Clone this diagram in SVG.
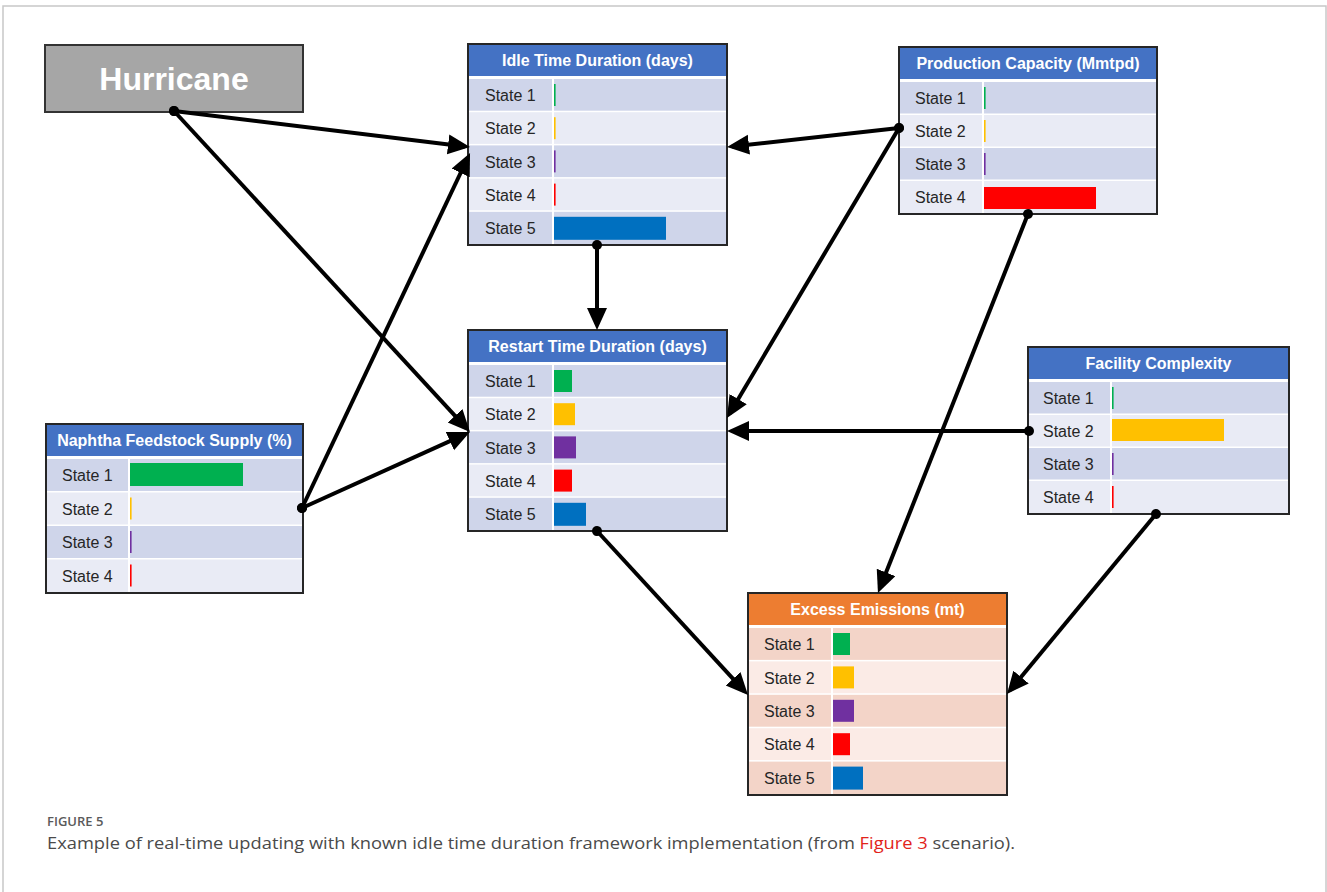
<svg xmlns="http://www.w3.org/2000/svg" width="1327" height="892" viewBox="0 0 1327 892">
  <defs>
    <style>
      .frame { fill: #ffffff; stroke: #c8c8c8; stroke-width: 1.5; }
      .box { fill: #ffffff; stroke: #262626; stroke-width: 2; }
      .hdr-blue { fill: #4472c4; }
      .hdr-orange { fill: #ed7d31; }
      .hdr-text { font-family: "Liberation Sans", Arial, sans-serif; font-weight: bold; font-size: 16px; fill: #ffffff; text-anchor: middle; }
      .lbl { font-family: "Liberation Sans", Arial, sans-serif; font-size: 16px; fill: #262626; }
      .b-dark { fill: #cfd5ea; }
      .b-light { fill: #e9ebf5; }
      .o-dark { fill: #f3d4c8; }
      .o-light { fill: #fbebe6; }
      .div { stroke: #ffffff; stroke-width: 2; }
      .c1 { fill: #00b050; }
      .c2 { fill: #ffc000; }
      .c3 { fill: #7030a0; }
      .c4 { fill: #ff0000; }
      .c5 { fill: #0070c0; }
      .edge { fill: none; stroke: #000000; stroke-width: 4; marker-start: url(#dot); marker-end: url(#head); }
      .cap-title { font-family: "Open Sans", "Liberation Sans", sans-serif; font-size: 13px; font-weight: 600; fill: #5a5a5a; }
      .cap { font-family: "Open Sans", "Liberation Sans", sans-serif; font-size: 17px; fill: #4a4a4a; }
      .cap-link { fill: #e2231a; }
    </style>
    <marker id="head" markerUnits="userSpaceOnUse" markerWidth="24" markerHeight="22" refX="17" refY="10" orient="auto">
      <path d="M0,0 L22,10 L0,20 z" fill="#000000"/>
    </marker>
    <marker id="dot" markerUnits="userSpaceOnUse" markerWidth="12" markerHeight="12" refX="6" refY="6" orient="auto">
      <circle cx="6" cy="6" r="5" fill="#000000"/>
    </marker>
  </defs>

  <!-- figure frame -->
  <rect class="frame" x="3" y="6" width="1323" height="900"/>

  <!-- Hurricane -->
  <g id="hurricane">
    <rect x="45" y="45" width="258" height="67" fill="#a6a6a6" stroke="#333333" stroke-width="2"/>
    <text x="174" y="90" font-family="Liberation Sans, Arial, sans-serif" font-weight="bold" font-size="32" fill="#ffffff" text-anchor="middle">Hurricane</text>
  </g>

  <!-- Idle Time Duration -->
  <g id="idle-time" transform="translate(468,44)">
    <rect class="box" x="0" y="0" width="259" height="201"/>
    <rect class="hdr-blue" x="1" y="1" width="257" height="31"/>
    <text class="hdr-text" x="129.5" y="22">Idle Time Duration (days)</text>
    <rect class="b-dark" x="1" y="35" width="257" height="31.7"/>
    <rect class="b-light" x="1" y="68.2" width="257" height="31.7"/>
    <rect class="b-dark" x="1" y="101.4" width="257" height="31.7"/>
    <rect class="b-light" x="1" y="134.6" width="257" height="31.7"/>
    <rect class="b-dark" x="1" y="167.8" width="257" height="32.2"/>
    <line class="div" x1="85" y1="35" x2="85" y2="200"/>
    <text class="lbl" x="17" y="57.1">State 1</text>
    <text class="lbl" x="17" y="90.3">State 2</text>
    <text class="lbl" x="17" y="123.5">State 3</text>
    <text class="lbl" x="17" y="156.7">State 4</text>
    <text class="lbl" x="17" y="189.9">State 5</text>
    <rect class="c1" x="86" y="40" width="1.6" height="22"/>
    <rect class="c2" x="86" y="73.2" width="1.6" height="22"/>
    <rect class="c3" x="86" y="106.4" width="1.6" height="22"/>
    <rect class="c4" x="86" y="139.6" width="1.6" height="22"/>
    <rect class="c5" x="86" y="172.8" width="112" height="23"/>
  </g>

  <!-- Production Capacity -->
  <g id="production-capacity" transform="translate(899,47)">
    <rect class="box" x="0" y="0" width="258" height="167"/>
    <rect class="hdr-blue" x="1" y="1" width="256" height="31"/>
    <text class="hdr-text" x="129" y="22">Production Capacity (Mmtpd)</text>
    <rect class="b-dark" x="1" y="35" width="256" height="31.5"/>
    <rect class="b-light" x="1" y="68" width="256" height="31.5"/>
    <rect class="b-dark" x="1" y="101" width="256" height="31.5"/>
    <rect class="b-light" x="1" y="134" width="256" height="32"/>
    <line class="div" x1="84" y1="35" x2="84" y2="166"/>
    <text class="lbl" x="16" y="57">State 1</text>
    <text class="lbl" x="16" y="90">State 2</text>
    <text class="lbl" x="16" y="123">State 3</text>
    <text class="lbl" x="16" y="156">State 4</text>
    <rect class="c1" x="85" y="40" width="1.6" height="22"/>
    <rect class="c2" x="85" y="73" width="1.6" height="22"/>
    <rect class="c3" x="85" y="106" width="1.6" height="22"/>
    <rect class="c4" x="85" y="140" width="112" height="22"/>
  </g>

  <!-- Naphtha Feedstock Supply -->
  <g id="naphtha-supply" transform="translate(46,424)">
    <rect class="box" x="0" y="0" width="257" height="169"/>
    <rect class="hdr-blue" x="1" y="1" width="255" height="31"/>
    <text class="hdr-text" x="128.5" y="22">Naphtha Feedstock Supply (%)</text>
    <rect class="b-dark" x="1" y="35" width="255" height="32"/>
    <rect class="b-light" x="1" y="68.5" width="255" height="32"/>
    <rect class="b-dark" x="1" y="102" width="255" height="32"/>
    <rect class="b-light" x="1" y="135.5" width="255" height="32.5"/>
    <line class="div" x1="83" y1="35" x2="83" y2="168"/>
    <text class="lbl" x="16" y="57.2">State 1</text>
    <text class="lbl" x="16" y="90.7">State 2</text>
    <text class="lbl" x="16" y="124.2">State 3</text>
    <text class="lbl" x="16" y="157.7">State 4</text>
    <rect class="c1" x="84" y="39" width="113" height="23"/>
    <rect class="c2" x="84" y="73.5" width="1.6" height="22"/>
    <rect class="c3" x="84" y="107" width="1.6" height="22"/>
    <rect class="c4" x="84" y="140.5" width="1.6" height="22"/>
  </g>

  <!-- Restart Time Duration -->
  <g id="restart-time" transform="translate(468,330)">
    <rect class="box" x="0" y="0" width="259" height="201"/>
    <rect class="hdr-blue" x="1" y="1" width="257" height="31"/>
    <text class="hdr-text" x="129.5" y="22">Restart Time Duration (days)</text>
    <rect class="b-dark" x="1" y="35" width="257" height="31.7"/>
    <rect class="b-light" x="1" y="68.2" width="257" height="31.7"/>
    <rect class="b-dark" x="1" y="101.4" width="257" height="31.7"/>
    <rect class="b-light" x="1" y="134.6" width="257" height="31.7"/>
    <rect class="b-dark" x="1" y="167.8" width="257" height="32.2"/>
    <line class="div" x1="85" y1="35" x2="85" y2="200"/>
    <text class="lbl" x="17" y="57.1">State 1</text>
    <text class="lbl" x="17" y="90.3">State 2</text>
    <text class="lbl" x="17" y="123.5">State 3</text>
    <text class="lbl" x="17" y="156.7">State 4</text>
    <text class="lbl" x="17" y="189.9">State 5</text>
    <rect class="c1" x="86" y="40" width="18" height="22"/>
    <rect class="c2" x="86" y="73.2" width="21" height="22"/>
    <rect class="c3" x="86" y="106.4" width="22" height="22"/>
    <rect class="c4" x="86" y="139.6" width="18" height="22"/>
    <rect class="c5" x="86" y="172.8" width="32" height="23"/>
  </g>

  <!-- Facility Complexity -->
  <g id="facility-complexity" transform="translate(1028,347)">
    <rect class="box" x="0" y="0" width="261" height="167"/>
    <rect class="hdr-blue" x="1" y="1" width="259" height="31"/>
    <text class="hdr-text" x="130.5" y="22">Facility Complexity</text>
    <rect class="b-dark" x="1" y="35" width="259" height="31.5"/>
    <rect class="b-light" x="1" y="68" width="259" height="31.5"/>
    <rect class="b-dark" x="1" y="101" width="259" height="31.5"/>
    <rect class="b-light" x="1" y="134" width="259" height="32"/>
    <line class="div" x1="83" y1="35" x2="83" y2="166"/>
    <text class="lbl" x="15" y="57">State 1</text>
    <text class="lbl" x="15" y="90">State 2</text>
    <text class="lbl" x="15" y="123">State 3</text>
    <text class="lbl" x="15" y="156">State 4</text>
    <rect class="c1" x="84" y="40" width="1.6" height="22"/>
    <rect class="c2" x="84" y="72" width="112" height="22"/>
    <rect class="c3" x="84" y="106" width="1.6" height="22"/>
    <rect class="c4" x="84" y="139" width="1.6" height="22"/>
  </g>

  <!-- Excess Emissions -->
  <g id="excess-emissions" transform="translate(748,593)">
    <rect class="box" x="0" y="0" width="259" height="202"/>
    <rect class="hdr-orange" x="1" y="1" width="257" height="31"/>
    <text class="hdr-text" x="129.5" y="22">Excess Emissions (mt)</text>
    <rect class="o-dark" x="1" y="35" width="257" height="31.9"/>
    <rect class="o-light" x="1" y="68.4" width="257" height="31.9"/>
    <rect class="o-dark" x="1" y="101.8" width="257" height="31.9"/>
    <rect class="o-light" x="1" y="135.2" width="257" height="31.9"/>
    <rect class="o-dark" x="1" y="168.6" width="257" height="32.4"/>
    <line class="div" x1="84" y1="35" x2="84" y2="201"/>
    <text class="lbl" x="16" y="57.2">State 1</text>
    <text class="lbl" x="16" y="90.6">State 2</text>
    <text class="lbl" x="16" y="124">State 3</text>
    <text class="lbl" x="16" y="157.4">State 4</text>
    <text class="lbl" x="16" y="190.8">State 5</text>
    <rect class="c1" x="85" y="40" width="17" height="22"/>
    <rect class="c2" x="85" y="73.4" width="21" height="22"/>
    <rect class="c3" x="85" y="106.8" width="21" height="22"/>
    <rect class="c4" x="85" y="140.2" width="17" height="22"/>
    <rect class="c5" x="85" y="173.6" width="30" height="23"/>
  </g>

  <!-- connectors: dot at the parent, arrowhead at the child -->
  <g id="connectors">
    <path class="edge" d="M174,111 L465,146.4"/>
    <path class="edge" d="M174,111 L466.6,428.3"/>
    <path class="edge" d="M302,508 L467.9,157.5"/>
    <path class="edge" d="M302,508 L465.4,434.1"/>
    <path class="edge" d="M899,128 L732,146.5"/>
    <path class="edge" d="M899,128 L729.5,413.7"/>
    <path class="edge" d="M597,245 L597,325"/>
    <path class="edge" d="M1029,431 L732,431"/>
    <path class="edge" d="M1028,214 L879.8,588.3"/>
    <path class="edge" d="M597,531 L744.6,691.3"/>
    <path class="edge" d="M1156,514 L1010.2,690.1"/>
  </g>

  <!-- caption -->
  <text class="cap-title" x="47" y="826">FIGURE 5</text>
  <text class="cap" x="47" y="849" textLength="968" lengthAdjust="spacingAndGlyphs">Example of real-time updating with known idle time duration framework implementation (from <tspan class="cap-link">Figure 3</tspan> scenario).</text>
</svg>
